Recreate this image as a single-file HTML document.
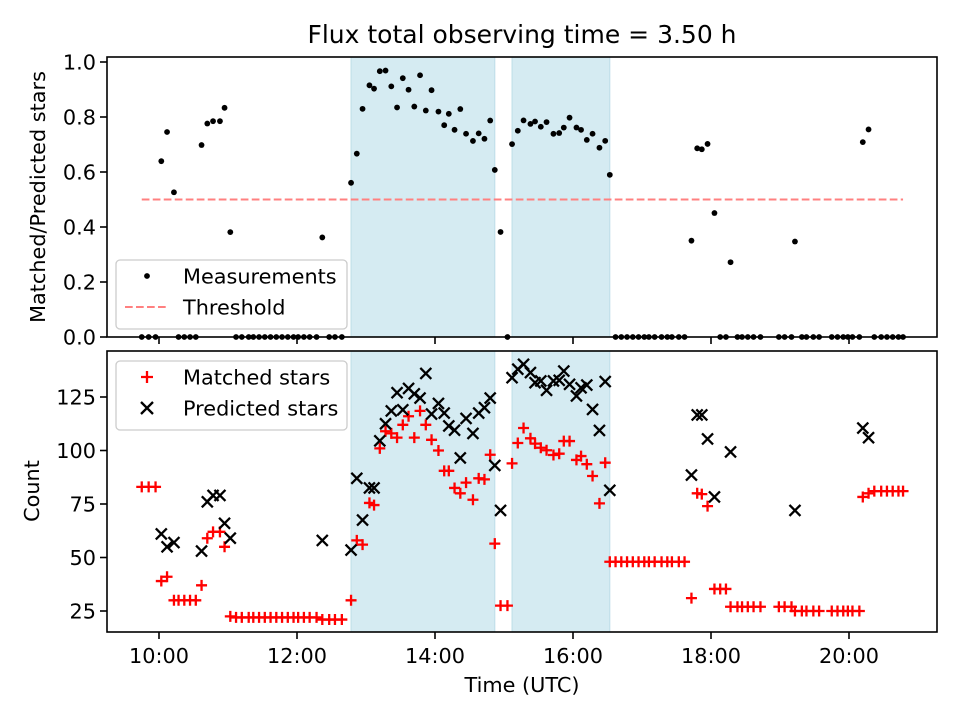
<!DOCTYPE html>
<html><head><meta charset="utf-8"><style>
body{margin:0;background:#fff}
svg text{font-family:"DejaVu Sans","Liberation Sans",sans-serif;fill:#000}
</style></head><body>
<svg id="chart" width="960" height="720" viewBox="0 0 960 720" xmlns="http://www.w3.org/2000/svg">
<rect width="960" height="720" fill="#fff"/>
<text x="522" y="43" font-size="25" text-anchor="middle">Flux total observing time = 3.50 h</text>
<g id="top"></g><g id="bot"></g>
<text transform="translate(45,197) rotate(-90)" font-size="20.8" text-anchor="middle">Matched/Predicted stars</text>
<text transform="translate(39,491) rotate(-90)" font-size="20.8" text-anchor="middle">Count</text>
<text x="522" y="692" font-size="20.8" text-anchor="middle">Time (UTC)</text>
</svg>
<script>
// time in minutes since midnight
const times = [585,591,597,602,607,613,617,622,627,632,637,642,647,653,657,662,667,672,678,682,687,692,697,702,707,712,717,721,726,731,737,742,748,753,759,767,772,777,783,787,792,797,802,807,812,817,822,827,832,837,843,848,852,857,862,867,873,878,883,888,892,897,903,907,912,917,923,927,932,937,943,948,952,957,963,967,972,977,983,988,992,997,1002,1007,1012,1017,1022,1026,1031,1037,1042,1046,1052,1057,1063,1068,1072,1077,1083,1088,1093,1097,1103,1107,1112,1117,1123,1139,1144,1150,1153,1159,1163,1169,1174,1185,1190,1195,1199,1203,1209,1212,1217,1222,1228,1233,1238,1243,1247];
const matched = [83,83,83,39,41,30,30,30,30,30,37,59,62,62,55,22.5,22,22,22,22,22,22,22,22,22,22,22,22,22,22,22,21,21,21,21,30,58,56,75.5,74.5,101,109,108,106,112,116,106,118.5,112,105,100,90.5,90.5,82.5,80,85,77,87,86.5,98,56.5,27.5,27.5,94,103.5,110.5,105.7,103.2,101.3,100.1,97.9,98.5,104.4,104.4,95.6,97.4,93.6,88.1,75.3,94.3,48,48,48,48,48,48,48,48,48,48,48,48,48,48,31,80,79.6,74,35.3,35.3,35.3,27,27,27,27,27,27,27,27,27,25,25,25,25,25,25,25,25,25,25,25,78.3,80,81,81,81,81,81,81];
const predicted = [0,0,0,61,55,57,0,0,0,0,53,76,79,79,66,59,0,0,0,0,0,0,0,0,0,0,0,0,0,0,0,58,0,0,0,53.5,87,67.5,82.5,82.5,104.5,112.5,118.5,127,119,129,126.5,124.5,136,117,122,117.5,111.5,109.5,96.5,115,108,117.5,120,124.5,93,72,0,134,138,140.3,136.4,131.7,132.5,128.1,132.5,132.8,137.1,130.9,125.5,129.3,130.6,119.2,109.4,132.2,81.4,0,0,0,0,0,0,0,0,0,0,0,0,0,88.5,116.6,116.6,105.4,78.3,0,0,99.3,0,0,0,0,0,0,0,0,72,0,0,0,0,0,0,0,0,0,0,110.5,106,0,0,0,0,0,0];
const spans = [[767,892],[907,992]];
const threshold = 0.5;
const xTicks = [600,720,840,960,1080,1200];
const xTickLabels = ["10:00","12:00","14:00","16:00","18:00","20:00"];
const topYTicks = [0,0.2,0.4,0.6,0.8,1.0];
const topYTickLabels = ["0.0","0.2","0.4","0.6","0.8","1.0"];
const botYTicks = [25,50,75,100,125];
const botYTickLabels = ["25","50","75","100","125"];

const NS="http://www.w3.org/2000/svg";
const L=107,R=937;
const X=m=>159+(m-600)*69/60;
const TOP={t:57,b:337}, BOT={t:351,b:632};
const Yt=r=>337-r*275;
const Yb=v=>611-(v-25)*2.14;
function mk(tag,attrs,parent){const e=document.createElementNS(NS,tag);for(const k in attrs)e.setAttribute(k,attrs[k]);parent.appendChild(e);return e;}
const gT=document.getElementById('top'), gB=document.getElementById('bot');

function panel(g,P,name){
  spans.forEach((s,i)=>{
    const r=mk('rect',{x:X(s[0]),y:P.t,width:X(s[1])-X(s[0]),height:P.b-P.t,fill:'#d5ebf2',stroke:'#bcdde8','stroke-width':1},g);
    
    
  });
}
panel(gT,TOP,'top');panel(gB,BOT,'bottom');

const th=mk('line',{x1:X(times[0]),x2:X(times[times.length-1]),y1:Yt(threshold),y2:Yt(threshold),stroke:'#ff8080','stroke-width':2.1,'stroke-dasharray':'7.7 3.3'},gT);



times.forEach((t,i)=>{
  const r=predicted[i]>0?matched[i]/predicted[i]:0;
  const c=mk('circle',{cx:X(t),cy:Yt(r),r:2.9,fill:'#000'},gT);
  
  
});
times.forEach((t,i)=>{
  const x=X(t),y=Yb(matched[i]);
  const p=mk('path',{d:`M${x-5.5},${y}H${x+5.5}M${x},${y-5.5}V${y+5.5}`,stroke:'#f00','stroke-width':2.3,fill:'none'},gB);
  
  
});
times.forEach((t,i)=>{
  if(predicted[i]<=0)return;
  const x=X(t),y=Yb(predicted[i]);
  const p=mk('path',{d:`M${x-5.5},${y-5.5}L${x+5.5},${y+5.5}M${x-5.5},${y+5.5}L${x+5.5},${y-5.5}`,stroke:'#000','stroke-width':2.3,fill:'none'},gB);
  
  
});

function frame(g,P,yT,yL,Yf,name,showX){
  const f=mk('rect',{x:L,y:P.t,width:R-L,height:P.b-P.t,fill:'none',stroke:'#000','stroke-width':1.6},g);
  
  
  xTicks.forEach((m,i)=>{
    const tk=mk('line',{x1:X(m),x2:X(m),y1:P.b,y2:P.b+7,stroke:'#000','stroke-width':1.6},g);
    
    
    if(showX){
      const tx=mk('text',{x:X(m),y:663,'font-size':20.8,'text-anchor':'middle'},g);
      tx.textContent=xTickLabels[i];
      
      
    }
  });
  yT.forEach((v,i)=>{
    const y=Yf(v);
    const tk=mk('line',{x1:L-7,x2:L,y1:y,y2:y,stroke:'#000','stroke-width':1.6},g);
    
    
    const tx=mk('text',{x:L-11,y:y+7.5,'font-size':20.8,'text-anchor':'end'},g);
    tx.textContent=yL[i];
    
    
  });
}
frame(gT,TOP,topYTicks,topYTickLabels,Yt,'top',false);
frame(gB,BOT,botYTicks,botYTickLabels,Yb,'bottom',true);

function legend(g,y0,items,name){
  const lg=mk('g',{},g);
  
  
  mk('rect',{x:116,y:y0,width:231,height:69,rx:4,fill:'#fff','fill-opacity':0.8,stroke:'#ccc','stroke-width':1.3},lg);
  items.forEach((it,i)=>{
    const y=y0+16+i*31;
    it.draw(lg,147,y);
    const tx=mk('text',{x:183,y:y+7.5,'font-size':20.8},lg);
    tx.textContent=it.label;
    
    
  });
}
legend(gT,260,[
  {label:'Measurements',draw:(g,x,y)=>mk('circle',{cx:x,cy:y,r:2.9,fill:'#000'},g)},
  {label:'Threshold',draw:(g,x,y)=>mk('line',{x1:x-22,x2:x+22,y1:y,y2:y,stroke:'#ff8080','stroke-width':2.1,'stroke-dasharray':'7.7 3.3'},g)}
],'top-legend');
legend(gB,361,[
  {label:'Matched stars',draw:(g,x,y)=>mk('path',{d:`M${x-6},${y}H${x+6}M${x},${y-6}V${y+6}`,stroke:'#f00','stroke-width':2.3},g)},
  {label:'Predicted stars',draw:(g,x,y)=>mk('path',{d:`M${x-6},${y-6}L${x+6},${y+6}M${x-6},${y+6}L${x+6},${y-6}`,stroke:'#000','stroke-width':2.3},g)}
],'bottom-legend');
</script>
</body></html>
